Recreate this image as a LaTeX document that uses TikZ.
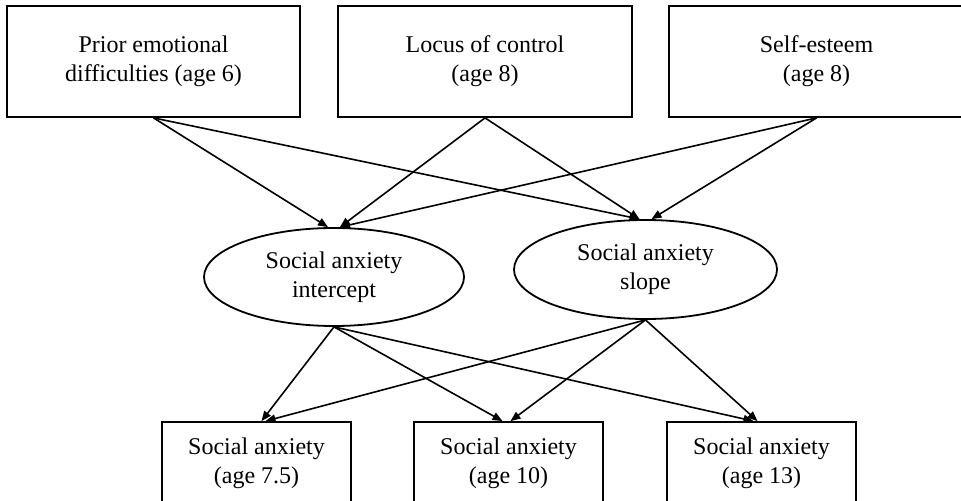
\documentclass[tikz,border=0pt]{standalone}
\usepackage{fontspec}
\setmainfont{Liberation Serif}
\usetikzlibrary{shapes.geometric,arrows.meta,calc}
\begin{document}
\begin{tikzpicture}[x=0.5pt,y=-0.5pt,
  txt/.style={align=center,inner sep=0pt,font=\fontsize{12}{14.5}\selectfont},
  box/.style={txt,draw,line width=0.9pt,rectangle},
  lat/.style={txt,draw,line width=0.9pt,ellipse},
  arr/.style={line width=0.8pt,-{Triangle[length=5pt,width=4pt]}}]
\useasboundingbox (0,0) rectangle (961,501);
\begin{scope}
\clip (0,0) rectangle (961,501);
% top row
\node[box,minimum width=146.5pt,minimum height=55.5pt] (A1) at (153.5,61.5) {Prior emotional\\difficulties (age 6)};
\node[box,minimum width=147pt,minimum height=55.5pt] (A2) at (485,61.5) {Locus of control\\(age 8)};
\node[box,minimum width=147.5pt,minimum height=55.5pt] (A3) at (816.5,61.5) {Self-esteem\\(age 8)};
% latent
\node[lat,minimum width=130pt,minimum height=49pt] (I) at (334,277) {Social anxiety\\intercept};
\node[lat,minimum width=131.5pt,minimum height=49.5pt] (S) at (645.5,269.5) {Social anxiety\\slope};
% bottom row
\node[box,minimum width=94.5pt,minimum height=41pt] (B1) at (256.5,463) {Social anxiety\\(age 7.5)};
\node[box,minimum width=94.5pt,minimum height=41pt] (B2) at (508.5,463) {Social anxiety\\(age 10)};
\node[box,minimum width=94.5pt,minimum height=41pt] (B3) at (761.5,463) {Social anxiety\\(age 13)};
% arrows to latent
\draw[arr] (A1.south) -- ($(I.north)+(-6,0)$);
\draw[arr] (A2.south) -- ($(I.north)+(6,0)$);
\draw[arr] (A3.south) -- ($(I.north)+(6,0)$);
\draw[arr] (A1.south) -- ($(S.north)+(-6,0)$);
\draw[arr] (A2.south) -- ($(S.north)+(-6,0)$);
\draw[arr] (A3.south) -- ($(S.north)+(6,0)$);
% arrows to observed
\draw[arr] (I.south) -- ($(B1.north)+(5,0)$);
\draw[arr] (I.south) -- ($(B2.north)+(-6,0)$);
\draw[arr] (I.south) -- ($(B3.north)+(-8,0)$);
\draw[arr] (S.south) -- ($(B1.north)+(9,0)$);
\draw[arr] (S.south) -- ($(B2.north)+(2,0)$);
\draw[arr] (S.south) -- ($(B3.north)+(-4,0)$);
\end{scope}
\end{tikzpicture}
\end{document}
